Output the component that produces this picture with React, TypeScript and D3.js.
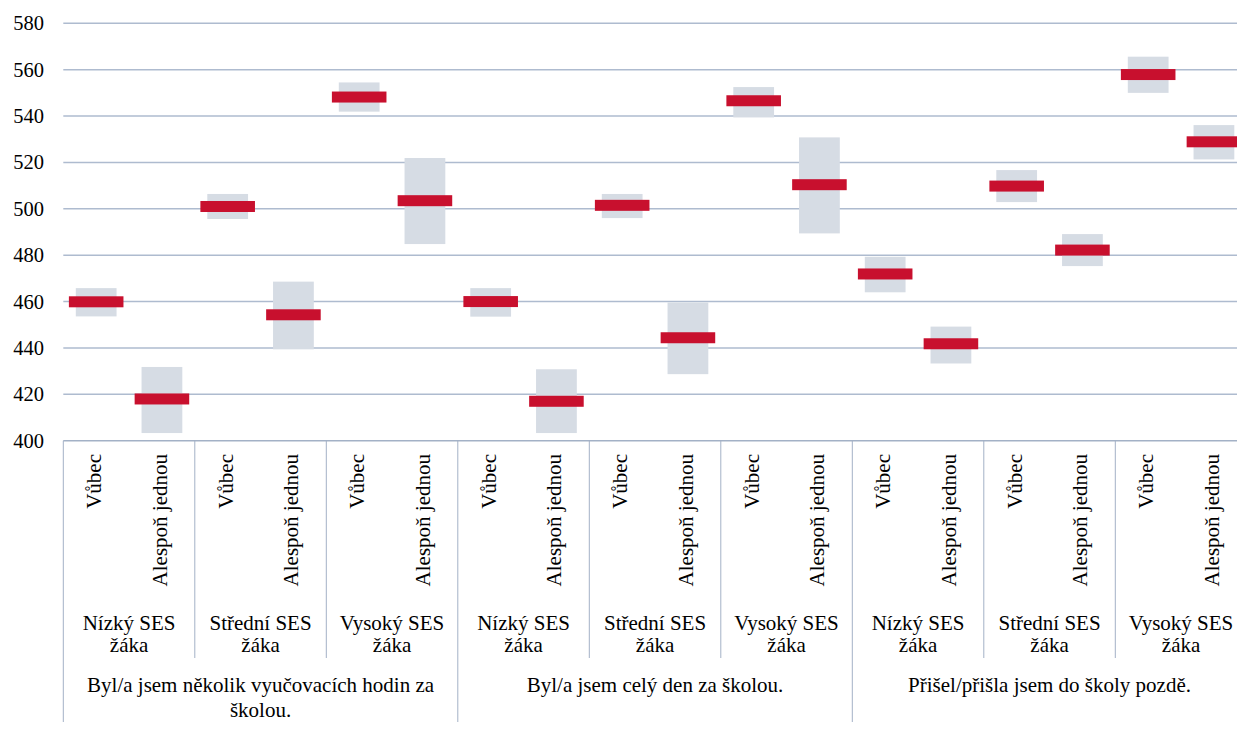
import React from 'react';
import * as d3 from 'd3';

// Survey groups, SES levels and answer frequency (hierarchical x axis)
const groups = [
  'Byl/a jsem několik vyučovacích hodin za školou.',
  'Byl/a jsem celý den za školou.',
  'Přišel/přišla jsem do školy pozdě.',
];
const sesLevels = ['Nízký SES žáka', 'Střední SES žáka', 'Vysoký SES žáka'];
const frequencies = ['Vůbec', 'Alespoň jednou'];

// Mean score and confidence interval bounds, one per leaf category (18)
const means = [459.9, 418.0, 501.0, 454.3, 548.2, 503.5, 460.0, 417.0, 501.5, 444.4, 546.6, 510.4, 471.9, 441.8, 509.8, 482.2, 557.9, 528.9];
const upper = [465.8, 431.8, 506.4, 468.6, 554.5, 521.9, 465.8, 430.8, 506.4, 459.6, 552.5, 530.8, 479.3, 449.2, 516.7, 489.1, 565.6, 536.1];
const lower = [453.6, 403.3, 495.6, 439.4, 541.9, 484.8, 453.5, 403.3, 496.0, 428.7, 539.4, 489.4, 464.0, 433.3, 502.9, 475.3, 550.0, 521.3];

const yTicks = [400, 420, 440, 460, 480, 500, 520, 540, 560, 580];

// label lines as they wrap in the original
const sesLines = [['Nízký SES', 'žáka'], ['Střední SES', 'žáka'], ['Vysoký SES', 'žáka']];
const groupLines = [
  ['Byl/a jsem několik vyučovacích hodin za', 'školou.'],
  ['Byl/a jsem celý den za školou.'],
  ['Přišel/přišla jsem do školy pozdě.'],
];

const width = 1237;
const height = 742;
const left = 63.3;
const catWidth = 65.75;
const top = 23.3;
const bottom = 440.7;

const GRID = '#AEBBCF';
const SEP = '#A3B1C6';

const App: React.FC = () => {
  const leaves = d3.range(groups.length * sesLevels.length * frequencies.length);
  const x = d3.scaleBand<number>()
    .domain(leaves)
    .range([left, left + catWidth * leaves.length])
    .padding(0);
  const y = d3.scaleLinear().domain([400, 580]).range([bottom, top]);
  const bw = x.bandwidth();

  const sesW = bw * frequencies.length;
  const grpW = sesW * sesLevels.length;
  const sesIdx = d3.range(groups.length * sesLevels.length);

  const txt = { fontFamily: 'Liberation Serif', fontSize: 21 };

  return (
    <svg
      width={width}
      height={height}
      style={{ position: 'absolute', left: 0, top: 0, background: '#fff' }}
    >
      {/* gridlines */}
      {yTicks.slice(1).map(t => (
        <line key={t} x1={left} x2={width} y1={y(t)} y2={y(t)} stroke={GRID} strokeWidth={1.5} />
      ))}

      {/* y tick labels */}
      {yTicks.map(t => (
        <text key={t} x={44} y={y(t) + 7} textAnchor="end" style={{ fontFamily: 'Liberation Serif', fontSize: 20.5 }}>
          {t}
        </text>
      ))}

      {/* confidence boxes */}
      {leaves.map(i => (
        <rect
          key={`b${i}`}
          x={x(i)! + bw / 2 - bw * 0.31}
          width={bw * 0.62}
          y={y(upper[i])}
          height={y(lower[i]) - y(upper[i])}
          fill="#D6DCE4"
        />
      ))}

      {/* mean markers */}
      {leaves.map(i => (
        <rect
          key={`m${i}`}
          x={x(i)! + bw / 2 - bw * 0.415}
          width={bw * 0.83}
          y={y(means[i]) - 5.5}
          height={11}
          fill="#C8102E"
        />
      ))}

      {/* x axis line */}
      <line x1={left} x2={width} y1={bottom} y2={bottom} stroke={SEP} strokeWidth={1.5} />

      {/* leaf labels, rotated */}
      {leaves.map(i => (
        <text
          key={`l${i}`}
          textAnchor="end"
          transform={`translate(${x(i)! + bw / 2 + 5},454) rotate(-90)`}
          style={txt}
        >
          {frequencies[i % frequencies.length]}
        </text>
      ))}

      {/* SES and group separators */}
      {sesIdx.concat([sesIdx.length]).map(k => (
        <line
          key={`s${k}`}
          x1={left + k * sesW}
          x2={left + k * sesW}
          y1={bottom}
          y2={k % sesLevels.length === 0 ? 722 : 658}
          stroke={SEP}
          strokeWidth={1}
        />
      ))}

      {/* SES labels */}
      {sesIdx.map(k =>
        sesLines[k % sesLevels.length].map((ln, j) => (
          <text key={`t${k}-${j}`} x={left + (k + 0.5) * sesW} y={630 + j * 22} textAnchor="middle" style={txt}>
            {ln}
          </text>
        ))
      )}

      {/* group labels */}
      {groupLines.map((lines, gi) =>
        lines.map((ln, j) => (
          <text key={`g${gi}-${j}`} x={left + (gi + 0.5) * grpW} y={692 + j * 25} textAnchor="middle" style={txt}>
            {ln}
          </text>
        ))
      )}
    </svg>
  );
};

export default App;
